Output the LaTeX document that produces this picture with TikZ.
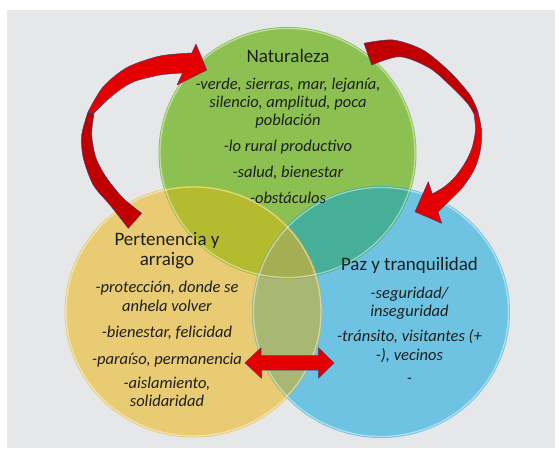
\documentclass[tikz,border=0pt]{standalone}
\usepackage{fontspec}
\setmainfont{Carlito}
\definecolor{bggray}{HTML}{E6E7E9}
\definecolor{cgreen}{HTML}{8CC152}
\definecolor{cyellow}{HTML}{E9CB74}
\definecolor{cblue}{HTML}{6FC3E2}
\definecolor{cyg}{HTML}{B4BB2F}
\definecolor{cgb}{HTML}{46AF98}
\definecolor{cyb}{HTML}{A8B772}
\definecolor{cygb}{HTML}{A5AE52}
\definecolor{redA}{HTML}{E40000}
\definecolor{redB}{HTML}{C00000}
\definecolor{arrowedge}{HTML}{44407A}
\definecolor{txt}{HTML}{1E1E1E}
\begin{document}
\begin{tikzpicture}[x=1pt,y=-1pt,
  ell/.style={x radius=129pt, y radius=126pt},
  rim/.style={x radius=127.5pt, y radius=124.5pt},
  rimline/.style={draw=white, draw opacity=0.45, line width=1.3pt},
  title/.style={font=\fontsize{19}{21}\selectfont, text=txt, anchor=base, inner sep=0pt},
  item/.style={font=\fontsize{16.5}{18}\selectfont\itshape, text=txt, anchor=base, inner sep=0pt},
  arrowline/.style={draw=arrowedge, line width=0.5pt, line join=round}]
\useasboundingbox (0,0) rectangle (555,448);
\fill[white] (0,0) rectangle (555,448);
\fill[bggray] (7,10) rectangle (555,448);

\coordinate (cg) at (287.5,153);
\coordinate (cy) at (193.5,311.5);
\coordinate (cb) at (381,312);

% circles
\fill[cyellow] (cy) ellipse [ell];
\fill[cblue] (cb) ellipse [ell];
\fill[cgreen] (cg) ellipse [ell];
\begin{scope}
  \clip (cy) ellipse [ell];
  \fill[cyg] (cg) ellipse [ell];
  \fill[cyb] (cb) ellipse [ell];
\end{scope}
\begin{scope}
  \clip (cg) ellipse [ell];
  \fill[cgb] (cb) ellipse [ell];
\end{scope}
\begin{scope}
  \clip (cy) ellipse [ell];
  \clip (cg) ellipse [ell];
  \fill[cygb] (cb) ellipse [ell];
\end{scope}
\draw[rimline] (cy) ellipse [rim];
\draw[rimline] (cb) ellipse [rim];
\draw[rimline] (cg) ellipse [rim];

% left curved arrow
\filldraw[fill=redB, arrowline]
  plot[smooth] coordinates {(88,112) (81.7,135) (83.3,158) (93.3,185) (110,205) (128.3,228.3)}
  -- (141.7,213.3)
  -- plot[smooth] coordinates {(141.7,213.3) (123,198) (106.7,178) (96,158) (91.7,135) (94,113)}
  -- cycle;
\filldraw[fill=redA, arrowline]
  (206.7,70) -- (196,44) -- (191.8,53)
  -- plot[smooth] coordinates {(191.8,53) (160,56) (127,67.5) (103,87) (88,112)}
  -- (94,113)
  -- plot[smooth] coordinates {(94,113) (113,95) (133,82) (160,75) (182.6,73)}
  -- (177,85) -- cycle;

% right curved arrow
\filldraw[fill=redB, arrowline]
  (371.7,65) -- (364,43.3)
  -- plot[smooth] coordinates {(364,43.3) (393,40) (423,50) (450,72) (470,95) (478,112)}
  -- (474,114)
  -- plot[smooth] coordinates {(474,114) (468,104) (453,88.3) (430,68.3) (400,56.7) (371.7,65)}
  -- cycle;
\filldraw[fill=redA, arrowline]
  plot[smooth] coordinates {(478,112) (481.7,132) (480,152) (474,170) (462,188) (448,202) (438,212)}
  -- (441.7,223.3) -- (415,211.7) -- (428.3,181.7) -- (432.3,194)
  -- plot[smooth] coordinates {(432.3,194) (444,187) (455,177) (465,163) (472,148) (475.5,130) (474,114)}
  -- cycle;

% double arrow
\filldraw[fill=redA, arrowline]
  (245,362.8) -- (261,347.7) -- (261,355.7) -- (318.3,355.7) -- (318.3,347.7)
  -- (334,363) -- (318.3,378.3) -- (318.3,370) -- (261.5,370) -- (261.5,378.3) -- cycle;

% texts: Naturaleza
\node[title] (tn) at (288,62) {Naturaleza};
\node[item] (g1) at (288,89.5) {-verde, sierras, mar, lejanía,};
\node[item] (g2) at (288,107.3) {silencio, amplitud, poca};
\node[item] (g3) at (288,125) {población};
\node[item] (g4) at (288,151.7) {-lo rural productivo};
\node[item] (g5) at (288,177) {-salud, bienestar};
\node[item] (g6) at (288,203) {-obstáculos};

% Pertenencia
\node[title] (tp1) at (167,245) {Pertenencia y};
\node[title] (tp2) at (167,265) {arraigo};
\node[item] (y1) at (167,292.7) {-protección, donde se};
\node[item] (y2) at (167,311) {anhela volver};
\node[item] (y3) at (167,337.3) {-bienestar, felicidad};
\node[item] (y4) at (167,364) {-paraíso, permanencia};
\node[item] (y5) at (167,388.3) {-aislamiento,};
\node[item] (y6) at (167,406.7) {solidaridad};

% Paz
\node[title] (tz) at (409.5,270) {Paz y tranquilidad};
\node[item] (b1) at (409.5,298.3) {-seguridad/};
\node[item] (b2) at (409.5,316) {inseguridad};
\node[item] (b3) at (409.5,341.7) {-tránsito, visitantes (+};
\node[item] (b4) at (409.5,360) {-), vecinos};
\node[item] (b5) at (409.5,383) {-};
\end{tikzpicture}
\end{document}
